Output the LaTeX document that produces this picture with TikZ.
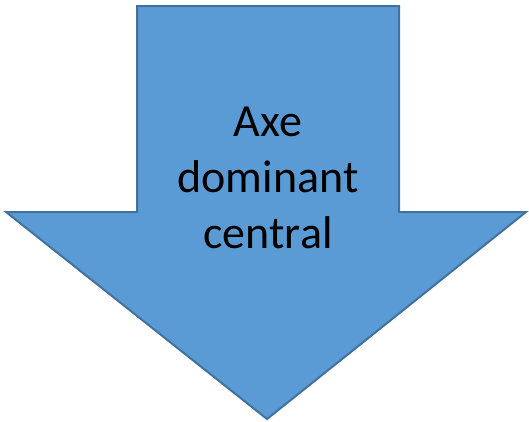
\documentclass[tikz,border=0pt]{standalone}
\usepackage{fontspec}
\setmainfont{Carlito}
\definecolor{arrfill}{HTML}{5B9BD5}
\definecolor{arrline}{HTML}{41719C}
\begin{document}
\begin{tikzpicture}[x=1pt,y=-1pt,
  arrowshape/.style={fill=arrfill,draw=arrline,line width=2pt,line join=miter},
  label/.style={font=\fontsize{46}{56}\selectfont,align=center,text=black,inner sep=0pt}]
\useasboundingbox (0,0) rectangle (529,421);
\draw[arrowshape] (137,6) -- (399,6) -- (399,212) -- (526,212) -- (267,419) -- (6,212) -- (137,212) -- cycle;
\node[label] (t) at (268,178) {Axe\\dominant\\central};
\end{tikzpicture}
\end{document}
